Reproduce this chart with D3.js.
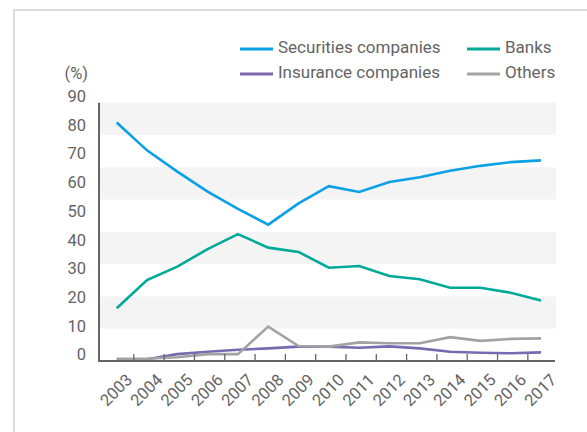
<!DOCTYPE html>
<html>
<head>
<meta charset="utf-8">
<script src="https://cdn.jsdelivr.net/npm/d3@7"></script>
<style>
  body { margin: 0; background: #fff; }
  svg { display: block; font-family: Roboto, "DejaVu Sans", sans-serif; }
</style>
</head>
<body>
<svg id="chart" width="587" height="432"></svg>
<script>
// chart data
const years = ["2003","2004","2005","2006","2007","2008","2009","2010","2011","2012","2013","2014","2015","2016","2017"];
const securities = [83.1, 73.4, 66.0, 59.0, 53.0, 47.5, 54.9, 60.9, 58.9, 62.4, 64.0, 66.3, 68.0, 69.3, 69.9];
const banks = [18.4, 28.2, 32.9, 39.0, 44.2, 39.5, 38.0, 32.5, 33.1, 29.6, 28.5, 25.5, 25.5, 23.8, 21.1];
const insurance = [0.6, 0.6, 2.4, 3.2, 3.9, 4.4, 5.0, 5.0, 4.6, 5.1, 4.4, 3.2, 2.9, 2.7, 3.0];
const others = [0.8, 0.8, 1.3, 2.4, 2.4, 12.0, 5.2, 5.0, 6.5, 6.2, 6.2, 8.3, 7.0, 7.7, 7.9];
const yTicks = [0, 10, 20, 30, 40, 50, 60, 70, 80, 90];

const series = [
  { name: "Securities companies", values: securities, color: "#0aa0e6" },
  { name: "Banks", values: banks, color: "#00a998" },
  { name: "Insurance companies", values: insurance, color: "#7a68b0" },
  { name: "Others", values: others, color: "#a3a3a3" }
];

const textColor = "#646464";
const svg = d3.select("#chart");

// frame
svg.append("path")
  .attr("d", "M14,432 L14,10 L587,10")
  .attr("fill", "none")
  .attr("stroke", "#dcdcdc")
  .attr("stroke-width", 2);

let x = d3.scalePoint().domain(years).range([116.7, 541]);
let y = d3.scaleLinear().domain([0, 90]).range([361, 102.7]);

// alternating background bands (8 of them, as in the original)
const bandCount = 8;
let bandY = d3.scaleLinear().domain([0, bandCount]).range([102.7, 361]);
svg.append("g")
  .selectAll("rect")
  .data(d3.range(bandCount).filter(i => i % 2 === 0))
  .join("rect")
    .attr("x", 99)
    .attr("width", 556 - 99)
    .attr("y", d => bandY(d))
    .attr("height", d => bandY(d + 1) - bandY(d))
    .attr("fill", "#f4f4f4");

// y tick labels
svg.append("g")
  .selectAll("text")
  .data(yTicks)
  .join("text")
    .attr("x", 86)
    .attr("y", d => y(d) - 5)
    .attr("dominant-baseline", "middle")
    .attr("text-anchor", "end")
    .attr("font-size", 16.5)
    .attr("fill", textColor)
    .text(d => d);

svg.append("text")
  .attr("x", 88)
  .attr("y", 75)
  .attr("dominant-baseline", "middle")
  .attr("text-anchor", "end")
  .attr("font-size", 16.5)
  .attr("fill", textColor)
  .text("(%)");

// lines
let line = d3.line()
  .x((d, i) => x(years[i]))
  .y(d => y(d));

svg.append("g")
  .selectAll("path")
  .data(series)
  .join("path")
    .attr("d", d => line(d.values))
    .attr("fill", "none")
    .attr("stroke", d => d.color)
    .attr("stroke-width", 2.6)
    .attr("stroke-linejoin", "miter");

// axes
const axisColor = "#666";
svg.append("line")
  .attr("x1", 99).attr("x2", 99)
  .attr("y1", 102.7).attr("y2", 362)
  .attr("stroke", axisColor).attr("stroke-width", 2);
svg.append("line")
  .attr("x1", 98).attr("x2", 555)
  .attr("y1", 361).attr("y2", 361)
  .attr("stroke", axisColor).attr("stroke-width", 2);

// x ticks between the years
svg.append("g")
  .selectAll("line")
  .data(years.slice(1))
  .join("line")
    .attr("x1", d => x(d) - x.step() / 2 + 2)
    .attr("x2", d => x(d) - x.step() / 2 + 2)
    .attr("y1", 361)
    .attr("y2", 354)
    .attr("stroke", axisColor)
    .attr("stroke-width", 1.3);

// year labels
svg.append("g")
  .selectAll("text")
  .data(years)
  .join("text")
    .attr("transform", d => "translate(" + (x(d) + 16.5) + ",381) rotate(-45)")
    .attr("text-anchor", "end")
    .attr("font-size", 16.5)
    .attr("fill", textColor)
    .text(d => d);

// legend
const legendPos = [
  { lx: 240, ly: 49 },
  { lx: 467, ly: 49 },
  { lx: 240, ly: 74 },
  { lx: 467, ly: 74 }
];
let legend = svg.append("g")
  .selectAll("g")
  .data(series)
  .join("g")
    .attr("transform", (d, i) => "translate(" + legendPos[i].lx + "," + legendPos[i].ly + ")");
legend.append("line")
  .attr("x1", 0).attr("x2", 33)
  .attr("stroke", d => d.color)
  .attr("stroke-width", 3);
legend.append("text")
  .attr("x", 38)
  .attr("dominant-baseline", "middle")
  .attr("font-size", 17)
  .attr("fill", textColor)
  .text(d => d.name);
</script>
</body>
</html>
